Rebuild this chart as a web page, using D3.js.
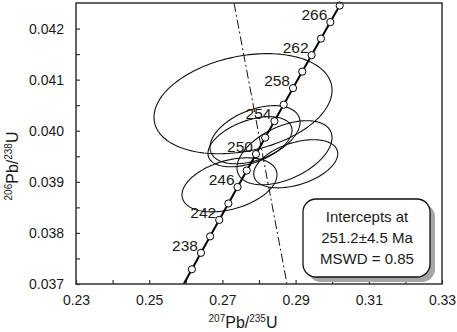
<!DOCTYPE html>
<html>
<head>
<meta charset="utf-8">
<script src="https://cdn.jsdelivr.net/npm/d3@7"></script>
<style>
  body { margin: 0; background: #fff; }
  svg text { font-family: "Liberation Sans", Arial, sans-serif; fill: #1a1a1a; }
</style>
</head>
<body>
<div id="chart"></div>
<script>
var w = 457, h = 332;
var margin = {left: 76, right: 15, top: 3, bottom: 48};

// Concordia ages (Ma) and ratios
var concAges = [234, 236, 238, 240, 242, 244, 246, 248, 250, 252, 254, 256, 258, 260, 262, 264, 266, 268];
var concX = [0.25917, 0.26166, 0.26414, 0.26664, 0.26913, 0.27163, 0.27414, 0.27665, 0.27917,
             0.28169, 0.28422, 0.28675, 0.28929, 0.29183, 0.29438, 0.29693, 0.29949, 0.30205];
var concY = [0.036966, 0.037288, 0.037610, 0.037932, 0.038254, 0.038576, 0.038898, 0.039221, 0.039543,
             0.039865, 0.040188, 0.040511, 0.040834, 0.041157, 0.041480, 0.041803, 0.042126, 0.042450];
var labelAges = [238, 242, 246, 250, 254, 258, 262, 266];

// Error ellipses: centre, half widths, correlation
var ellX   = [0.27563, 0.27891, 0.27754, 0.28697, 0.29004, 0.27194];
var ellY   = [0.040529, 0.039922, 0.039784, 0.039569, 0.039353, 0.038941];
var ellSx  = [0.02432, 0.01230, 0.01148, 0.01298, 0.01148, 0.01298];
var ellSy  = [0.000980, 0.000569, 0.000490, 0.000627, 0.000471, 0.000529];
var ellRho = [0.27, 0.43, 0.46, 0.47, 0.42, 0.37];

// Discordia line ends
var discX = [0.27317, 0.28765];
var discY = [0.0425, 0.037];

// Ticks
var xTicks = [0.23, 0.25, 0.27, 0.29, 0.31, 0.33];
var xMinor = [0.24, 0.26, 0.28, 0.30, 0.32];
var yTicks = [0.037, 0.038, 0.039, 0.040, 0.041, 0.042];
var yMinor = [0.0375, 0.0385, 0.0395, 0.0405, 0.0415];

var boxLines = ["Intercepts at", "251.2\u00b14.5 Ma", "MSWD = 0.85"];

var xScale = d3.scaleLinear()
  .domain([0.23, 0.33])
  .range([margin.left, w - margin.right]);

var yScale = d3.scaleLinear()
  .domain([0.037, 0.0425])
  .range([h - margin.bottom, margin.top]);

var svg = d3.select("#chart")
  .append("svg")
  .attr("width", w)
  .attr("height", h);

svg.append("clipPath")
  .attr("id", "plot-area")
  .append("rect")
  .attr("x", margin.left)
  .attr("y", margin.top)
  .attr("width", w - margin.left - margin.right)
  .attr("height", h - margin.top - margin.bottom);

// Axes, ticks pointing inwards
var xAxis = d3.axisBottom(xScale)
  .tickValues(xTicks.concat(xMinor))
  .tickSizeInner(-4)
  .tickSizeOuter(0)
  .tickPadding(11)
  .tickFormat(function(d) {
    return xTicks.some(function(t) { return Math.abs(t - d) < 1e-9; }) ? d3.format(".2f")(d) : "";
  });

var yAxis = d3.axisLeft(yScale)
  .tickValues(yTicks.concat(yMinor))
  .tickSizeInner(-4)
  .tickSizeOuter(0)
  .tickPadding(12)
  .tickFormat(function(d) {
    return yTicks.some(function(t) { return Math.abs(t - d) < 1e-9; }) ? d3.format(".3f")(d) : "";
  });

var gx = svg.append("g")
  .attr("transform", "translate(0," + (h - margin.bottom) + ")")
  .call(xAxis);

var gy = svg.append("g")
  .attr("transform", "translate(" + margin.left + ",0)")
  .call(yAxis);

[gx, gy].forEach(function(g) {
  g.select(".domain").remove();
  g.selectAll("line").attr("stroke", "#333").attr("stroke-width", 1.2);
  g.selectAll("text")
    .attr("font-size", "14px")
    .attr("font-family", "Liberation Sans, Arial, sans-serif")
    .attr("fill", "#1a1a1a");
});

// Ellipses
var ellipses = ellX.map(function(cx, i) {
  var pts = d3.range(0, 2 * Math.PI + 0.001, Math.PI / 90).map(function(t) {
    var dx = ellSx[i] * Math.cos(t);
    var dy = ellSy[i] * (ellRho[i] * Math.cos(t) + Math.sqrt(1 - ellRho[i] * ellRho[i]) * Math.sin(t));
    return [xScale(cx + dx), yScale(ellY[i] + dy)];
  });
  return pts;
});

svg.append("g")
  .attr("clip-path", "url(#plot-area)")
  .selectAll("path")
  .data(ellipses)
  .enter()
  .append("path")
  .attr("d", d3.line())
  .attr("fill", "none")
  .attr("stroke", "#111")
  .attr("stroke-width", 1.1);

// Discordia
svg.append("line")
  .attr("x1", xScale(discX[0]))
  .attr("y1", yScale(discY[0]))
  .attr("x2", xScale(discX[1]))
  .attr("y2", yScale(discY[1]))
  .attr("stroke", "#111")
  .attr("stroke-width", 1)
  .attr("stroke-dasharray", "9,3,2,3");

// Concordia curve
var concLine = d3.line()
  .x(function(d, i) { return xScale(concX[i]); })
  .y(function(d, i) { return yScale(concY[i]); })
  .curve(d3.curveCatmullRom);

svg.append("path")
  .datum(concAges)
  .attr("clip-path", "url(#plot-area)")
  .attr("d", concLine)
  .attr("fill", "none")
  .attr("stroke", "#000")
  .attr("stroke-width", 2);

var markerIdx = concAges.map(function(d, i) { return i; })
  .filter(function(i) { return concY[i] >= 0.037; });

svg.append("g")
  .selectAll("circle")
  .data(markerIdx)
  .enter()
  .append("circle")
  .attr("cx", function(i) { return xScale(concX[i]); })
  .attr("cy", function(i) { return yScale(concY[i]); })
  .attr("r", 3.6)
  .attr("fill", "#fff")
  .attr("stroke", "#000")
  .attr("stroke-width", 1);

// Age labels
svg.append("g")
  .selectAll("text")
  .data(labelAges)
  .enter()
  .append("text")
  .attr("x", function(d) { return xScale(concX[concAges.indexOf(d)]) - 3; })
  .attr("y", function(d) { return yScale(concY[concAges.indexOf(d)]) - 2; })
  .attr("text-anchor", "end")
  .attr("font-size", "15.5px")
  .text(function(d) { return d; });

// Frame
svg.append("rect")
  .attr("x", margin.left)
  .attr("y", margin.top)
  .attr("width", w - margin.left - margin.right)
  .attr("height", h - margin.top - margin.bottom)
  .attr("fill", "none")
  .attr("stroke", "#333")
  .attr("stroke-width", 1.5);

// Axis titles
var xTitle = svg.append("text")
  .attr("x", 243)
  .attr("y", 328)
  .attr("text-anchor", "middle")
  .attr("font-size", "16px");
xTitle.append("tspan").attr("font-size", "10px").attr("dy", -6).text("207");
xTitle.append("tspan").attr("dy", 6).text("Pb/");
xTitle.append("tspan").attr("font-size", "10px").attr("dy", -6).text("235");
xTitle.append("tspan").attr("dy", 6).text("U");

var yTitle = svg.append("text")
  .attr("transform", "translate(18,166) rotate(-90)")
  .attr("text-anchor", "middle")
  .attr("font-size", "16px");
yTitle.append("tspan").attr("font-size", "10px").attr("dy", -6).text("206");
yTitle.append("tspan").attr("dy", 6).text("Pb/");
yTitle.append("tspan").attr("font-size", "10px").attr("dy", -6).text("238");
yTitle.append("tspan").attr("dy", 6).text("U");

// Result box
var box = svg.append("g");
box.append("rect")
  .attr("x", 308).attr("y", 204)
  .attr("width", 127).attr("height", 78)
  .attr("rx", 13)
  .attr("fill", "#a6a6a6");
box.append("rect")
  .attr("x", 303).attr("y", 199)
  .attr("width", 127).attr("height", 78)
  .attr("rx", 13)
  .attr("fill", "#fff")
  .attr("stroke", "#111")
  .attr("stroke-width", 1.3);
box.selectAll("text.box")
  .data(boxLines)
  .enter()
  .append("text")
  .attr("class", "box")
  .attr("x", 367)
  .attr("y", function(d, i) { return 222 + i * 21; })
  .attr("text-anchor", "middle")
  .attr("font-size", "15px")
  .text(function(d) { return d; });
</script>
</body>
</html>
